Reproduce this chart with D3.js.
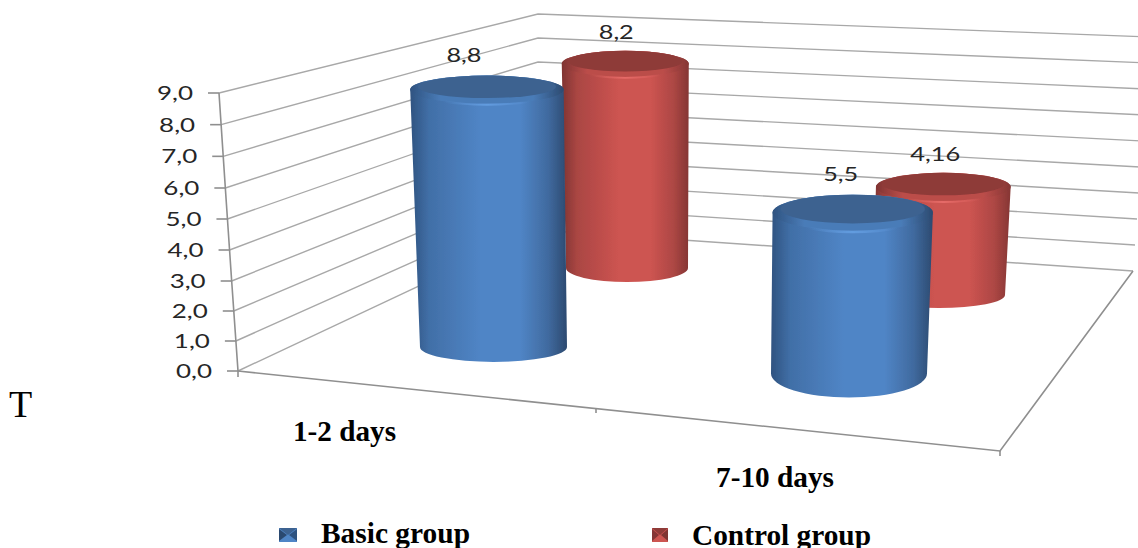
<!DOCTYPE html>
<html><head><meta charset="utf-8">
<script src="https://cdnjs.cloudflare.com/ajax/libs/d3/7.8.5/d3.min.js"></script>
<style>html,body{margin:0;padding:0;background:#fff;overflow:hidden}svg{display:block}</style>
</head><body><svg id="c" width="1138" height="548"></svg>
<script>
// ---- data ----
const categories = ["1-2 days", "7-10 days"];
const seriesNames = ["Basic group", "Control group"];
const basicValues = [8.8, 5.5];
const controlValues = [8.2, 4.16];
const basicLabels = ["8,8", "5,5"];
const controlLabels = ["8,2", "4,16"];
const tickValues = [0,1,2,3,4,5,6,7,8,9];
const tickLabels = ["0,0","1,0","2,0","3,0","4,0","5,0","6,0","7,0","8,0","9,0"];

// ---- layout ----
const svg = d3.select("#c");
const defs = svg.append("defs");
defs.append("filter").attr("id","soft").attr("x","-5%").attr("y","-5%").attr("width","110%").attr("height","110%")
  .append("feGaussianBlur").attr("stdDeviation",0.55);
const frontY = d3.scaleLinear().domain([0,3,6,9]).range([371,281,188,93]);
const frontX = d3.scaleLinear().domain([0,9]).range([238,219]);
const backY  = d3.scaleLinear().domain([0,9]).range([230,14]);
const backX  = d3.scaleLinear().domain([0,9]).range([538,538]);
const rightY = d3.scaleLinear().domain([0,9]).range([271,37]);
const rightX = d3.scaleLinear().domain([0,9]).range([1133,1151]);
const catPos = d3.scalePoint().domain(categories).range([0,1]);
const seriesLayout = [
  {name: seriesNames[0], values: basicValues, labels: basicLabels, unit: [29.25,29.25],
   baseX: d3.scaleLinear().range([493.5,849]), baseY: d3.scaleLinear().range([347,373.5]),
   rx: [73.5,78], ryTop:[14,18], ryBase:[15,24], labelOff:[[-23,-28],[-12,-32]],
   edgeL:"#2f5380", mid:"#5085c6", edgeR:"#2c4a70", cap:"#3c6290", hi:"#6aa6ea", rim:"#4a7cb8"},
  {name: seriesNames[1], values: controlValues, labels: controlLabels, unit: [24.9,26],
   baseX: d3.scaleLinear().range([627,939]), baseY: d3.scaleLinear().range([268,295]),
   rx: [61,66], ryTop:[13,14], ryBase:[14,13], labelOff:[[-9,-25],[-8,-26]],
   edgeL:"#7f3432", mid:"#cd5451", edgeR:"#853634", cap:"#8e3a38", hi:"#f07571", rim:"#bb4d4a"}
];
const lean = d3.scaleLinear().domain([680,1680]).range([0,4]);

// ---- text ----
svg.append("text").attr("x",9).attr("y",417).attr("font-family","Liberation Serif")
  .attr("font-size",38).attr("fill","#000").text("T");

// ---- walls and floor ----
const gridColor = "#a8a8a8", axisColor = "#8f8f8f";
const plot = svg.append("g").attr("filter","url(#soft)");
const grid = plot.append("g").attr("fill","none").attr("stroke",gridColor).attr("stroke-width",1.4);
const line = d3.line();
tickValues.forEach(v => {
  grid.append("path").attr("d", line([[frontX(v),frontY(v)],[backX(v),backY(v)],[rightX(v),rightY(v)]]));
});
grid.append("path").attr("stroke",axisColor).attr("stroke-width",1.6)
  .attr("d", line([[frontX(0),frontY(0)],[1000,451],[rightX(0),rightY(0)]]));
plot.append("path").attr("fill","none").attr("stroke",axisColor).attr("stroke-width",1.6)
  .attr("d", line(tickValues.map(v=>[frontX(v),frontY(v)])));
plot.append("path").attr("stroke",axisColor).attr("stroke-width",1.6).attr("d",line([[frontX(0),frontY(0)],[frontX(0),frontY(0)+6]]));
tickValues.forEach((v,i) => {
  plot.append("path").attr("stroke",axisColor).attr("stroke-width",1.6)
    .attr("d", line([[frontX(v)-11,frontY(v)],[frontX(v),frontY(v)]]));
  svg.append("text").attr("x",frontX(v)-26).attr("y",frontY(v)+7).attr("text-anchor","end")
    .attr("font-family","Lato").attr("font-size",19.5).attr("fill","#262626")
    .attr("textLength",36).attr("lengthAdjust","spacingAndGlyphs").text(tickLabels[i]);
});
[[596,408],[1000,451]].forEach(p=>{
  plot.append("path").attr("stroke",axisColor).attr("stroke-width",1.6).attr("d",line([p,[p[0],p[1]+5]]));
});

// ---- gradients ----
seriesLayout.forEach((s,i)=>{
  const g = defs.append("linearGradient").attr("id","side"+i);
  [[0,s.edgeL],[0.12,d3.interpolateRgb(s.edgeL,s.mid)(0.55)],[0.45,s.mid],[0.7,s.mid],[0.88,d3.interpolateRgb(s.edgeR,s.mid)(0.55)],[1,s.edgeR]]
    .forEach(d=>g.append("stop").attr("offset",d[0]).attr("stop-color",d[1]));
  const h = defs.append("linearGradient").attr("id","hi"+i);
  [[0.15,0],[0.5,1],[0.85,0]].forEach(d=>h.append("stop").attr("offset",d[0]).attr("stop-color",s.hi).attr("stop-opacity",d[1]));
  const r = defs.append("linearGradient").attr("id","rim"+i);
  [[0,s.edgeL],[0.2,s.rim],[0.8,s.rim],[1,s.edgeR]].forEach(d=>r.append("stop").attr("offset",d[0]).attr("stop-color",d[1]));
});

// ---- cylinders: back row first ----
const bars = plot.append("g");
[1,0].forEach(si=>{
  const s = seriesLayout[si];
  categories.forEach((c,ci)=>{
    const t = catPos(c), v = s.values[ci];
    const xb = s.baseX(t), yb = s.baseY(t);
    const yt = yb - v*s.unit[ci];
    const xt = xb + lean(xb)*v;
    const rb = s.rx[ci], rt = rb*(1+0.005*v);
    const ryT = s.ryTop[ci], ryB = s.ryBase[ci];
    const g = bars.append("g");
    g.append("path").attr("fill",`url(#side${si})`).attr("d",
      `M${xt-rt},${yt} L${xb-rb},${yb} A${rb},${ryB} 0 0 0 ${xb+rb},${yb} L${xt+rt},${yt} A${rt},${ryT} 0 0 0 ${xt-rt},${yt} Z`);
    g.append("ellipse").attr("cx",xt).attr("cy",yt).attr("rx",rt).attr("ry",ryT).attr("fill",`url(#rim${si})`);
    const ri = rt*0.9, ryi = ryT*0.8, yi = yt-ryT*0.2;
    g.append("path").attr("fill",`url(#hi${si})`).attr("opacity",0.7).attr("d",
      `M${xt-rt*0.8},${yt+ryT*0.35} A${rt*0.8},${ryT*0.8} 0 0 0 ${xt+rt*0.8},${yt+ryT*0.35} A${rt*0.85},${ryT} 0 0 1 ${xt-rt*0.8},${yt+ryT*0.35} Z`);
    g.append("ellipse").attr("cx",xt).attr("cy",yi).attr("rx",ri).attr("ry",ryi).attr("fill",s.cap);
    const [ox,oy] = s.labelOff[ci];
    svg.append("text").attr("x",xt+ox).attr("y",yt+oy).attr("text-anchor","middle")
      .attr("font-family","Lato").attr("font-size",19.5).attr("fill","#262626")
      .attr("textLength",s.labels[ci].length>3?50:35).attr("lengthAdjust","spacingAndGlyphs").text(s.labels[ci]);
  });
});

// ---- category labels ----
const serif = sel => sel.attr("font-family","Liberation Serif").attr("font-weight","bold").attr("font-size",29).attr("fill","#000");
serif(svg.append("text").attr("x",293).attr("y",441).attr("textLength",103).attr("lengthAdjust","spacingAndGlyphs").text(categories[0]));
serif(svg.append("text").attr("x",716).attr("y",487).attr("textLength",118).attr("lengthAdjust","spacingAndGlyphs").text(categories[1]));

// ---- legend ----
[[279,seriesLayout[0],321,543,149],[652,seriesLayout[1],692,545,179]].forEach(([x,s,tx,ty,tl],i)=>{
  const m = svg.append("g").attr("transform",`translate(${x},528)`).attr("filter","url(#soft)");
  const w = i?16:18, h = 14;
  m.append("rect").attr("width",w).attr("height",h).attr("fill",s.mid);
  m.append("path").attr("fill",s.cap).attr("d",`M0,0 L${w/2},${h/2} L${w},0 Z`);
  m.append("path").attr("fill",s.edgeL).attr("d",`M${w},1 L${w/2+1},${h/2} L${w},${h-1} Z`);
  m.append("path").attr("fill",s.edgeR).attr("d",`M0,1 L${w/2-1},${h/2} L0,${h-1} Z`);
  serif(svg.append("text").attr("x",tx).attr("y",ty).attr("textLength",tl).attr("lengthAdjust","spacingAndGlyphs").text(s.name));
});
</script></body></html>
